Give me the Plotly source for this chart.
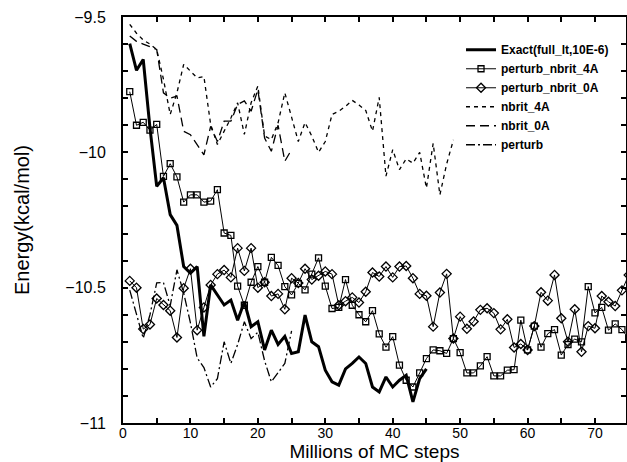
import plotly.graph_objects as go

# ---------------- data ----------------
x_exact = list(range(1, 46))
exact = [-9.598, -9.697, -9.657, -9.91, -10.126, -10.094, -10.23, -10.27, -10.422, -10.446,
         -10.422, -10.68, -10.49, -10.527, -10.564, -10.546, -10.62, -10.552, -10.644, -10.626,
         -10.73, -10.657, -10.71, -10.68, -10.743, -10.737, -10.601, -10.70, -10.718, -10.805,
         -10.848, -10.86, -10.80, -10.78, -10.756, -10.78, -10.867, -10.885, -10.83, -10.867,
         -10.842, -10.824, -10.922, -10.836, -10.80]

x_pn = list(range(1, 76))
pn4 = [-9.776, -9.90, -9.889, -9.918, -9.897, -10.089, -10.042, -10.091, -10.184, -10.157,
       -10.157, -10.184, -10.18, -10.138, -10.298, -10.307, -10.494, -10.565, -10.48, -10.422,
       -10.48, -10.388, -10.418, -10.496, -10.527, -10.484, -10.508, -10.45, -10.39, -10.494,
       -10.577, -10.573, -10.47, -10.565, -10.60, -10.626, -10.585, -10.671, -10.72, -10.681,
       -10.786, -10.842, -10.867, -10.815, -10.762, -10.73, -10.733, -10.743, -10.688, -10.74,
       -10.815, -10.815, -10.789, -10.755, -10.826, -10.826, -10.805, -10.803, -10.62, -10.73,
       -10.642, -10.72, -10.67, -10.655, -10.749, -10.71, -10.69, -10.70, -10.496, -10.593,
       -10.573, -10.657, -10.634, -10.655, -10.688]
pn0 = [-10.475, -10.50, -10.653, -10.636, -10.54, -10.564, -10.585, -10.684, -10.502, -10.43,
       -10.657, -10.573, -10.49, -10.45, -10.435, -10.462, -10.354, -10.438, -10.354, -10.50,
       -10.48, -10.531, -10.523, -10.58, -10.465, -10.483, -10.43, -10.47, -10.456, -10.44,
       -10.45, -10.565, -10.55, -10.536, -10.555, -10.515, -10.444, -10.459, -10.422, -10.462,
       -10.422, -10.42, -10.465, -10.523, -10.53, -10.644, -10.518, -10.449, -10.688, -10.607,
       -10.652, -10.625, -10.582, -10.576, -10.594, -10.654, -10.617, -10.721, -10.708, -10.73,
       -10.642, -10.517, -10.548, -10.453, -10.613, -10.70, -10.58, -10.737, -10.642, -10.65,
       -10.531, -10.552, -10.568, -10.51, -10.453]

x_n4 = list(range(1, 50))
nbrit4 = [-9.527, -9.56, -9.585, -9.60, -9.62, -9.73, -9.86, -9.78, -9.675, -9.70,
          -9.725, -9.72, -9.897, -9.971, -9.922, -9.873, -9.817, -9.934, -9.817, -9.755,
          -9.94, -9.953, -9.891, -9.78, -9.87, -9.96, -9.89, -9.94, -10.0, -9.96,
          -9.86, -9.848, -9.83, -9.808, -9.825, -9.845, -9.922, -9.797, -10.088, -9.99,
          -10.064, -10.024, -10.04, -10.0, -10.132, -9.967, -10.157, -10.043, -9.954]

x_n0 = list(range(1, 26))
nbrit0 = [-9.57, -9.59, -9.60, -9.61, -9.62, -9.78, -9.80, -9.792, -9.922, -9.935,
          -9.97, -10.009, -9.904, -9.96, -9.885, -9.885, -9.823, -9.81, -9.848, -9.768,
          -9.947, -9.996, -9.90, -10.033, -9.99]

x_pt = list(range(1, 26))
perturb = [-10.509, -10.60, -10.687, -10.60, -10.482, -10.481, -10.567, -10.434, -10.52, -10.63,
           -10.76, -10.795, -10.867, -10.836, -10.70, -10.78, -10.71, -10.626, -10.688, -10.665,
           -10.77, -10.848, -10.815, -10.78, -10.66]

names = ["Exact(full_lt,10E-6)", "perturb_nbrit_4A", "perturb_nbrit_0A",
         "nbrit_4A", "nbrit_0A", "perturb"]

FONT = "Liberation Sans, Arial, Helvetica, sans-serif"

fig = go.Figure()
fig.add_trace(go.Scatter(x=x_exact, y=exact, mode="lines", name=names[0],
                         line=dict(color="black", width=3)))
fig.add_trace(go.Scatter(x=x_pn, y=pn4, mode="lines+markers", name=names[1],
                         line=dict(color="black", width=1),
                         marker=dict(symbol="square-open", size=6, color="black",
                                     line=dict(width=1.3))))
fig.add_trace(go.Scatter(x=x_pn, y=pn0, mode="lines+markers", name=names[2],
                         line=dict(color="black", width=1),
                         marker=dict(symbol="diamond-open", size=7, color="black",
                                     line=dict(width=1.3))))
fig.add_trace(go.Scatter(x=x_n4, y=nbrit4, mode="lines", name=names[3],
                         line=dict(color="black", width=1.3, dash="4px,4px")))
fig.add_trace(go.Scatter(x=x_n0, y=nbrit0, mode="lines", name=names[4],
                         line=dict(color="black", width=1.3, dash="9px,5px")))
fig.add_trace(go.Scatter(x=x_pt, y=perturb, mode="lines", name=names[5],
                         line=dict(color="black", width=1.3, dash="9px,3px,2px,3px")))

axis_common = dict(
    showline=True, linecolor="black", linewidth=2, mirror="ticks",
    ticks="inside", ticklen=5, tickwidth=1.5, tickcolor="black",
    showgrid=False, zeroline=False,
)

fig.update_layout(
    width=627, height=462,
    margin=dict(l=123, r=1, t=17, b=39),
    paper_bgcolor="white", plot_bgcolor="white",
    font=dict(family=FONT, color="black"),
    xaxis=dict(range=[0, 74.6], dtick=10, tick0=0,
               minor=dict(dtick=5, ticks="inside", ticklen=5, tickwidth=1.5, tickcolor="black"),
               tickfont=dict(family=FONT, size=14, color="black"),
               ticklabelstandoff=-4,
               title=dict(text="Millions of MC steps", font=dict(family=FONT, size=19), standoff=0),
               automargin=False,
               **axis_common),
    yaxis=dict(range=[-11, -9.5], dtick=0.5, tick0=-11,
               minor=dict(dtick=0.1, ticks="inside", ticklen=5, tickwidth=1.5, tickcolor="black"),
               tickfont=dict(family=FONT, size=16, color="black"),
               title=dict(text="Energy(kcal/mol)", font=dict(family=FONT, size=20), standoff=30),
               ticklabelstandoff=12,
               automargin=False,
               **axis_common),
    legend=dict(x=0.672, y=0.955, xanchor="left", yanchor="top",
                bgcolor="rgba(0,0,0,0)", borderwidth=0,
                font=dict(family=FONT, size=12, color="black", weight=700),
                itemwidth=30, tracegroupgap=0),
    showlegend=True,
)

fig.write_html("out.html")
